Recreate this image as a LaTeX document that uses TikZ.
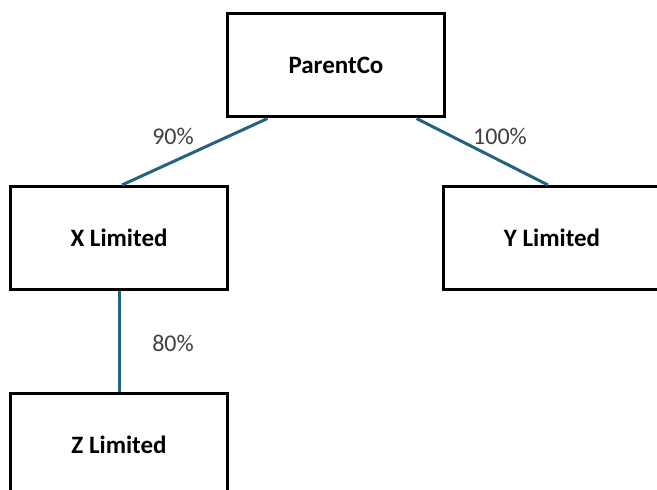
\documentclass[tikz,border=0pt]{standalone}
\usepackage{fontspec}
\setmainfont{Carlito}
\usetikzlibrary{positioning}
\definecolor{linkblue}{RGB}{36,98,130}
\definecolor{pctgray}{RGB}{64,64,64}
\tikzset{
  company/.style={draw=black, line width=1.5pt, minimum width=108.5pt, minimum height=51.5pt,
    inner sep=0pt, font=\fontsize{12.5}{15}\selectfont\bfseries},
  link/.style={draw=linkblue, line width=1.5pt},
  share/.style={text=pctgray, inner sep=0pt, font=\fontsize{12}{14}\selectfont}
}

\begin{document}
\begin{tikzpicture}[x=0.5pt,y=-0.5pt]
	\useasboundingbox (0,0) rectangle (657,490);
	\node [company, minimum width=108.5pt] (parent) at (336,65.5) {ParentCo};
	\node [company] (xltd) at (119,238) {X Limited};
	\node [company] (yltd) at (552,238) {Y Limited};
	\node [company] (zltd) at (119,445) {Z Limited};
	\draw [link] ([xshift=20.75pt]parent.south west) -- ([xshift=1.5pt]xltd.north);
	\draw [link] ([xshift=-14.75pt]parent.south east) -- ([xshift=-2pt]yltd.north);
	\draw [link] (xltd.south) -- (zltd.north);
	\node [share] (p90) at (173,136) {90\%};
	\node [share] (p100) at (500,136) {100\%};
	\node [share] (p80) at (173,343) {80\%};
\end{tikzpicture}
\end{document}
